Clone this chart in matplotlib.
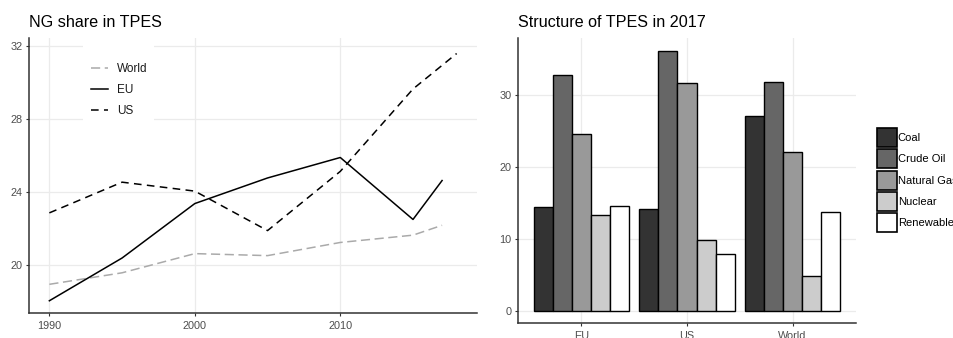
import matplotlib
matplotlib.use("Agg")
import matplotlib.pyplot as plt
from matplotlib.patches import Rectangle
import numpy as np

plt.rcParams["font.family"] = ["Liberation Sans", "DejaVu Sans"]

# NG share in TPES, %
years = [1990, 1995, 2000, 2005, 2010, 2015, 2017]
us_years = [1990, 1995, 2000, 2005, 2010, 2015, 2018]
world_share = [18.97, 19.6, 20.65, 20.54, 21.26, 21.66, 22.2]
eu_share = [18.07, 20.41, 23.39, 24.79, 25.91, 22.52, 24.65]
us_share = [22.88, 24.56, 24.07, 21.91, 25.15, 29.66, 31.6]

# structure of TPES in 2017, %
regions = ["EU", "US", "World"]
sources = ["Coal", "Crude Oil", "Natural Gas", "Nuclear", "Renewable"]
coal = [14.5, 14.2, 27.1]
crude_oil = [32.8, 36.2, 31.85]
natural_gas = [24.6, 31.7, 22.2]
nuclear = [13.4, 9.86, 4.9]
renewable = [14.6, 7.96, 13.85]
fills = ["#333333", "#666666", "#999999", "#cccccc", "#ffffff"]

W, H = 954, 338
fig = plt.figure(figsize=(W / 100, H / 100), dpi=100)

tick_col = "#4d4d4d"
grid_col = "#ebebeb"


def style(ax):
    for s in ["top", "right"]:
        ax.spines[s].set_visible(False)
    for s in ["left", "bottom"]:
        ax.spines[s].set_color("#333333")
        ax.spines[s].set_linewidth(1.1)
    ax.grid(True, color=grid_col, linewidth=0.9)
    ax.set_axisbelow(True)
    ax.tick_params(colors="#333333", labelcolor=tick_col, labelsize=7.8,
                   length=2.5, width=0.8)


# left panel
ax1 = fig.add_axes([29 / W, 1 - 313 / H, 448 / W, 275 / H])
style(ax1)
ax1.plot(years, world_share, color="#aaaaaa", lw=1.1, dashes=(6, 3), label="World")
ax1.plot(years, eu_share, color="black", lw=1.1, label="EU")
ax1.plot(us_years, us_share, color="black", lw=1.1, dashes=(5, 3.5), label="US")
ax1.set_xlim(1988.6, 2019.4)
ax1.set_ylim(17.4, 32.45)
ax1.set_xticks([1990, 2000, 2010])
ax1.set_yticks([20, 24, 28, 32])
ax1.tick_params(axis="x", pad=3)
ax1.tick_params(axis="y", pad=2)
ax1.text(0, 1.056, "NG share in TPES", transform=ax1.transAxes, fontsize=11.6,
         ha="left", va="center")
# white legend background over the grid
ax1.add_patch(Rectangle((54 / 448, 1 - 86 / 275), 71 / 448, 83 / 275,
                        transform=ax1.transAxes, facecolor="white",
                        edgecolor="none", zorder=2.5))
leg1 = ax1.legend(loc="upper left", bbox_to_anchor=(62 / 448, 1 - 25 / 275),
                  fontsize=8.5, frameon=False, handlelength=1.45,
                  handletextpad=0.76, labelspacing=0.78, borderpad=0,
                  borderaxespad=0)
for t in leg1.get_texts():
    t.set_color("#1a1a1a")

# right panel
ax2 = fig.add_axes([518 / W, 1 - 323 / H, 338 / W, 285 / H])
style(ax2)
x = np.arange(1, len(regions) + 1)
bw = 0.18
series = [coal, crude_oil, natural_gas, nuclear, renewable]
for i, (vals, name, fc) in enumerate(zip(series, sources, fills)):
    ax2.bar(x + (i - 2) * bw, vals, width=bw, color=fc, edgecolor="black",
            linewidth=1.0, label=name)
ax2.set_xlim(0.4, 3.6)
ax2.set_ylim(-1.67, 38.0)
ax2.set_xticks(x)
ax2.set_xticklabels(regions)
ax2.set_yticks([0, 10, 20, 30])
ax2.tick_params(axis="x", pad=3)
ax2.tick_params(axis="y", pad=2)
ax2.text(0, 1.056, "Structure of TPES in 2017", transform=ax2.transAxes,
         fontsize=11.6, ha="left", va="center")
leg2 = fig.legend(*ax2.get_legend_handles_labels(), loc="upper left",
                  bbox_to_anchor=(875 / W, 1 - 126 / H), fontsize=8,
                  frameon=False, handlelength=1.8, handleheight=2.25,
                  handletextpad=0.05, labelspacing=0.2, borderpad=0.2,
                  borderaxespad=0)
for p in leg2.get_patches():
    p.set_linewidth(1.2)

fig.savefig("out.png", dpi=100)
